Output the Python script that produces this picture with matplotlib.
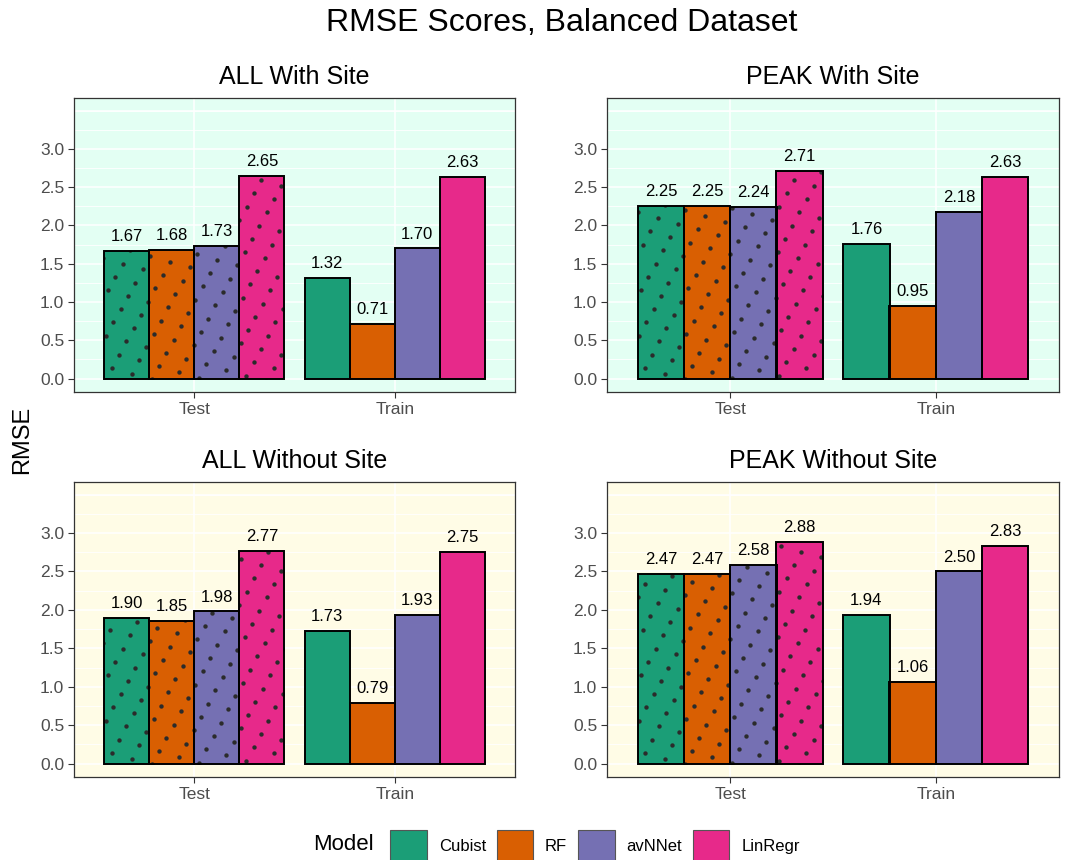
import numpy as np
import matplotlib.pyplot as plt
from matplotlib.patches import Patch
from matplotlib.ticker import MultipleLocator

plt.rcParams['font.family'] = ['Liberation Sans', 'DejaVu Sans']

models = ['Cubist', 'RF', 'avNNet', 'LinRegr']
colors = ['#1B9E77', '#D95F02', '#7570B3', '#E7298A']
splits = ['Test', 'Train']

all_with_test = [1.67, 1.68, 1.73, 2.65]
all_with_train = [1.32, 0.71, 1.70, 2.63]
peak_with_test = [2.25, 2.25, 2.24, 2.71]
peak_with_train = [1.76, 0.95, 2.18, 2.63]
all_without_test = [1.90, 1.85, 1.98, 2.77]
all_without_train = [1.73, 0.79, 1.93, 2.75]
peak_without_test = [2.47, 2.47, 2.58, 2.88]
peak_without_train = [1.94, 1.06, 2.50, 2.83]

W, H = 1076, 860
fig = plt.figure(figsize=(W / 100, H / 100), dpi=100)


def px_axes(x0, y0, x1, y1):
    return fig.add_axes([x0 / W, 1 - y1 / H, (x1 - x0) / W, (y1 - y0) / H])


def dot_pattern(ax, patch):
    # lattice of dots in pixel space, clipped to the bar
    bb = ax.bbox
    a = np.array([20.0, -5.7])
    b = np.array([7.3, 13.3])
    n = 60
    i, j = np.meshgrid(np.arange(-n, n), np.arange(-n, n))
    pts = np.column_stack([(i * a[0] + j * b[0]).ravel(), (i * a[1] + j * b[1]).ravel()])
    pts = pts + np.array([bb.x0 + 3, bb.y0 + 3])
    keep = ((pts[:, 0] > bb.x0 - 5) & (pts[:, 0] < bb.x1 + 5) &
            (pts[:, 1] > bb.y0 - 5) & (pts[:, 1] < bb.y1 + 5))
    data = ax.transData.inverted().transform(pts[keep])
    sc = ax.scatter(data[:, 0], data[:, 1], s=10, color='#2b2b2b', linewidths=0, zorder=3.2)
    sc.set_clip_path(patch)


panels = [
    ('ALL With Site', all_with_test, all_with_train, (74, 98, 515, 392), '#E3FFF3'),
    ('PEAK With Site', peak_with_test, peak_with_train, (607, 98, 1059, 392), '#E3FFF3'),
    ('ALL Without Site', all_without_test, all_without_train, (74, 482, 515, 777), '#FFFCE6'),
    ('PEAK Without Site', peak_without_test, peak_without_train, (607, 482, 1059, 777), '#FFFCE6'),
]

width = 0.225
for title, test_vals, train_vals, box, bg in panels:
    ax = px_axes(*box)
    ax.set_facecolor(bg)
    ax.set_xlim(0.4, 2.6)
    ax.set_ylim(-0.175, 3.665)
    for i, m in enumerate(models):
        off = (i - 1.5) * width
        for j, vals in enumerate([test_vals, train_vals]):
            x = j + 1 + off
            bars = ax.bar(x, vals[i], width=width, color=colors[i], linewidth=0, zorder=3)
            if j == 0:
                dot_pattern(ax, bars[0])
            ax.bar(x, vals[i], width=width, fill=False, edgecolor='black',
                   linewidth=1.4, zorder=3.4)
            ax.annotate(f'{vals[i]:.2f}', (x, vals[i]), xytext=(0, 5),
                        textcoords='offset points', ha='center', va='bottom',
                        fontsize=12, color='black', zorder=4)
    ax.set_xticks([1, 2])
    ax.set_xticklabels(splits)
    ax.set_yticks(np.arange(0, 3.01, 0.5))
    ax.set_yticklabels([f'{v:.1f}' for v in np.arange(0, 3.01, 0.5)])
    ax.yaxis.set_minor_locator(MultipleLocator(0.25))
    ax.tick_params(axis='both', which='major', labelsize=12.5, labelcolor='#4D4D4D',
                   color='#333333', length=4, width=0.8, pad=3)
    ax.tick_params(axis='y', which='minor', length=0)
    ax.grid(True, which='major', color='white', linewidth=1.1, zorder=0)
    ax.grid(True, which='minor', axis='y', color='white', linewidth=0.6, zorder=0)
    ax.axhline(3.5, color='white', linewidth=1.1, zorder=0)
    ax.set_axisbelow(True)
    for s in ax.spines.values():
        s.set_color('#333333')
        s.set_linewidth(0.9)
    ax.set_title(title, fontsize=18, pad=10)

fig.text(562 / W, 1 - 23 / H, 'RMSE Scores, Balanced Dataset', ha='center', va='center',
         fontsize=23)
fig.text(22 / W, 1 - 440 / H, 'RMSE', rotation=90, ha='center', va='center', fontsize=17)

handles = [Patch(facecolor=c, edgecolor='#555555', linewidth=0.8) for c in colors]
fig.text(313 / W, 1 - 845 / H, 'Model', ha='left', va='center', fontsize=16)
fig.legend(handles, models, loc='center left', bbox_to_anchor=(382 / W, 1 - 846 / H),
           ncol=4, frameon=False, fontsize=12, handlelength=2.2, handleheight=2.6,
           handletextpad=0.7, columnspacing=0.65, borderpad=0)

fig.savefig('out.png', dpi=100)
